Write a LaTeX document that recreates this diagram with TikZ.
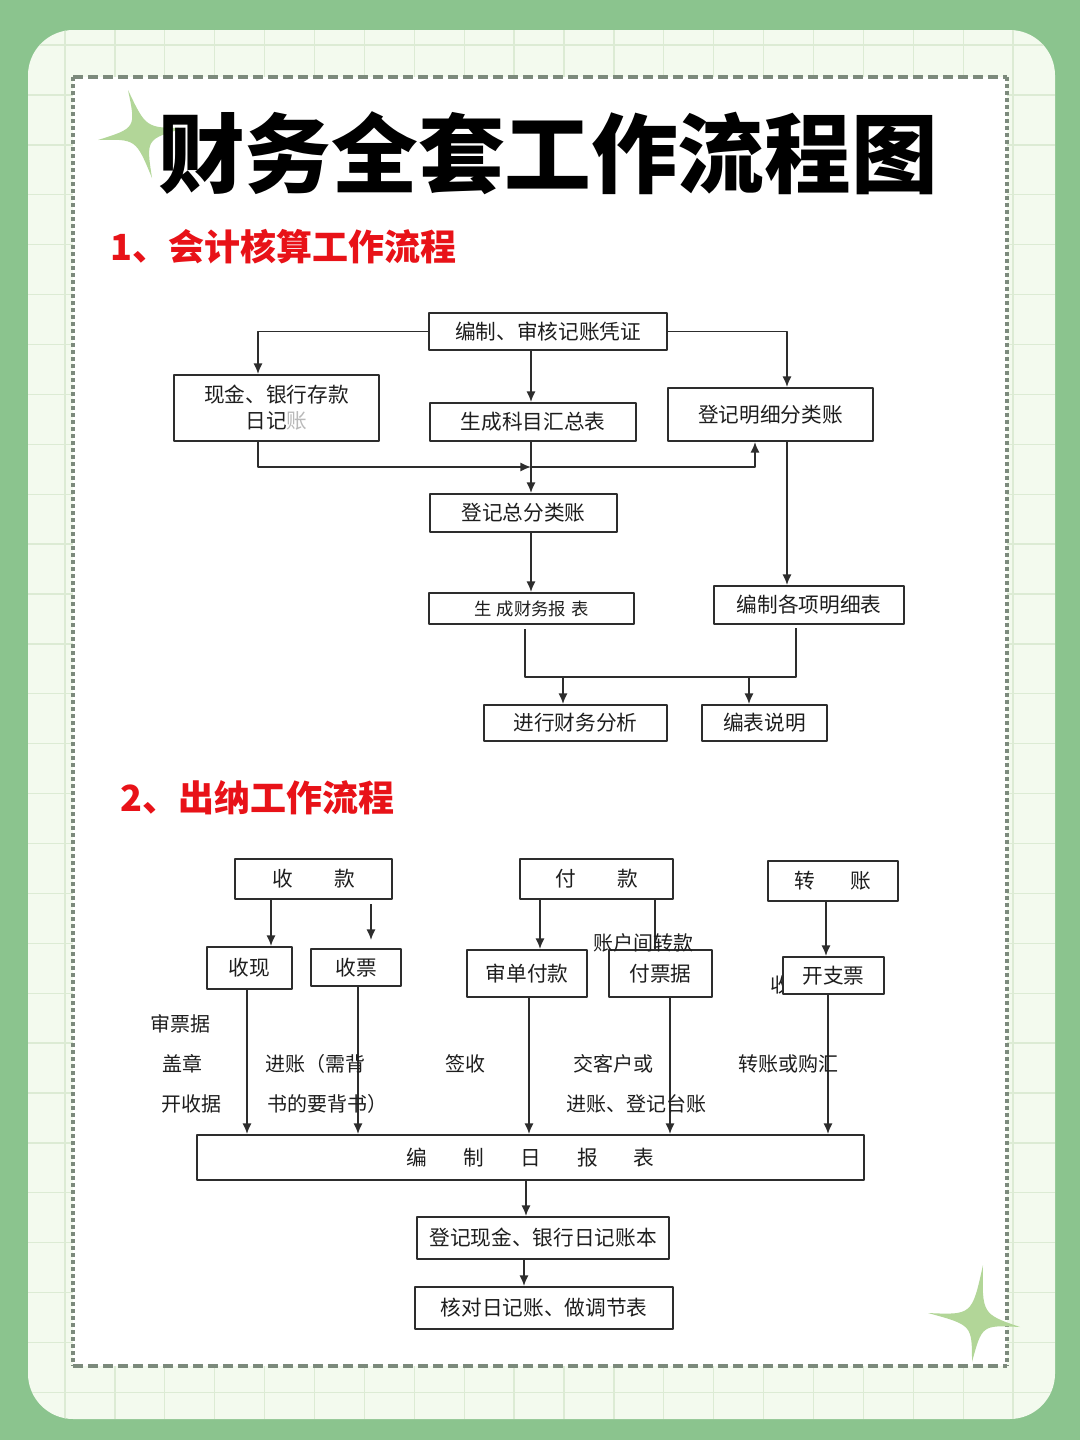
\documentclass[tikz,border=0pt]{standalone}
\usepackage{fontspec}
\usetikzlibrary{arrows.meta}
\newfontfamily\cjk{Noto Sans CJK SC}
\definecolor{outergreen}{RGB}{139,196,142}
\definecolor{panel}{RGB}{243,250,238}
\definecolor{gridline}{RGB}{220,235,212}
\definecolor{dashcol}{RGB}{124,138,124}
\definecolor{stargreen}{RGB}{178,214,152}
\definecolor{headred}{RGB}{232,18,24}
\definecolor{boxline}{RGB}{45,45,45}
\definecolor{ink}{RGB}{30,30,30}
\begin{document}
\begin{tikzpicture}[x=0.75pt, y=-0.75pt, line join=round,
  box/.style 2 args={draw=boxline, line width=1.5pt, fill=white, inner sep=0pt, align=center,
    font=\cjk\fontsize{15.5}{19.5}\selectfont, text=ink,
    minimum width=#1*0.75pt, minimum height=#2*0.75pt},
  lbl/.style={font=\cjk\fontsize{15}{18}\selectfont, text=ink, inner sep=0pt},
  link/.style={draw=boxline, line width=1.3pt, -{Latex[length=8pt,width=7pt]}},
  wire/.style={draw=boxline, line width=1.3pt},
  star/.style={fill=stargreen}]
\useasboundingbox (0,0) rectangle (1080,1440);

% background
\fill[outergreen] (0,0) rectangle (1080,1440);
\fill[panel, rounded corners=34pt] (28,30) rectangle (1055,1419);
\begin{scope}
  \clip[rounded corners=34pt] (28,30) rectangle (1055,1419);
  \foreach \x in {0,...,20}
    \draw[gridline, line width=1pt] (15.1+\x*49.9,30) -- (15.1+\x*49.9,1419);
  \foreach \y in {0,...,28}
    \draw[gridline, line width=1pt] (28,45.1+\y*49.9) -- (1055,45.1+\y*49.9);
\end{scope}
\fill[white] (73,77) rectangle (1007,1366);
\draw[dashcol, line width=2.6pt, dash pattern=on 7.5pt off 3.75pt] (73,77) -- (1007,77);
\draw[dashcol, line width=2.6pt, dash pattern=on 7.5pt off 3.75pt] (73,1366) -- (1007,1366);
\draw[dashcol, line width=2.6pt, dash pattern=on 3pt off 2.25pt] (73,77) -- (73,1366);
\draw[dashcol, line width=2.6pt, dash pattern=on 3pt off 2.25pt] (1007,77) -- (1007,1366);

% sparkles
\fill[star] (128,90) .. controls (146,128) .. (185,128) .. controls (146,139) .. (152,178)
  .. controls (136,139) .. (98,140) .. controls (136,128) .. cycle;
\fill[star] (983,1265) .. controls (982,1314) .. (1020,1327) .. controls (982,1325) .. (972,1362)
  .. controls (972,1325) .. (928,1313) .. controls (972,1315) .. cycle;

% title and headings
\node[font=\cjk\bfseries\fontsize{65}{70}\selectfont, text=black, inner sep=0pt] (title) at (548,153) {财务全套工作流程图};
\node[anchor=west, font=\cjk\bfseries\fontsize{27}{30}\selectfont, text=headred, inner sep=0pt] (head1) at (110,247) {1、会计核算工作流程};
\node[anchor=west, font=\cjk\bfseries\fontsize{27}{30}\selectfont, text=headred, inner sep=0pt] (head2) at (120,798) {2、出纳工作流程};

% 1. accounting flow
\node[box={238}{37}] (vouch) at (548,331.5) {编制、审核记账凭证};
\node[box={205}{66}] (cashj) at (276.5,408) {现金、银行存款\\日记{\color{gray!55}账}};
\node[box={206}{38}] (summ) at (533,422) {生成科目汇总表};
\node[box={205}{53}] (detl) at (770.5,414.5) {登记明细分类账};
\node[box={187}{38}] (gl) at (523.5,513) {登记总分类账};
\node[box={205}{31}, font=\cjk\fontsize{13}{15}\selectfont] (rep) at (531.5,608.5) {生\hspace{0.3em}成财务报\hspace{0.3em}表};
\node[box={190}{38}] (sched) at (809,605) {编制各项明细表};
\node[box={183}{36}] (anal) at (575.5,723) {进行财务分析};
\node[box={125}{36}] (note) at (764.5,723) {编表说明};

\coordinate (mid) at (531,467);
\coordinate (busL) at (525,677);
\coordinate (busR) at (796,677);
\coordinate (ta) at (563,677);
\coordinate (tb) at (749,677);

\draw[link] (vouch.west) -| (cashj.north -| 258,0);
\draw[link] (vouch.south -| mid) -- (summ.north -| mid);
\draw[link] (vouch.east) -| (detl.north -| 787,0);
\draw[link] (cashj.south -| 258,0) |- (mid);
\draw[link] (mid) -| (detl.south -| 755,0);
\draw[link] (summ.south -| mid) -- (gl.north -| mid);
\draw[link] (gl.south -| mid) -- (rep.north -| mid);
\draw[link] (detl.south -| 787,0) -- (sched.north -| 787,0);
\draw[wire] ([yshift=-3pt]rep.south -| busL) -- (busL) -- (busR) -- ([yshift=-2pt]sched.south -| busR);
\draw[link] (ta) -- (anal.north -| ta);
\draw[link] (tb) -- (note.north -| tb);

% 2. cashier flow
\node[lbl] (hidden) at (780,985) {收};
\node[box={157}{40}] (recv) at (313.5,879) {收\hspace{2em}款};
\node[box={153}{40}] (pay) at (596.5,879) {付\hspace{2em}款};
\node[box={130}{40}] (xfer) at (833,881) {转\hspace{1.7em}账};
\node[box={85}{42}] (cash) at (249.5,968) {收现};
\node[box={90}{37}] (chq) at (356,967.5) {收票};
\node[box={120}{47}] (audit) at (527,973.5) {审单付款};
\node[box={103}{47}] (bill) at (660.5,973.5) {付票据};
\node[box={101}{37}] (check) at (833.5,975.5) {开支票};
\node[box={667}{45}] (daily) at (530.5,1157.5) {编\hspace{1.75em}制\hspace{1.75em}日\hspace{1.75em}报\hspace{1.75em}表};
\node[box={252}{42}] (post) at (543,1238) {登记现金、银行日记账本};
\node[box={258}{42}] (recon) at (544,1308) {核对日记账、做调节表};

\draw[link] (recv.south -| 271,0) -- (cash.north -| 271,0);
\draw[link] ([yshift=-3pt]recv.south -| 371,0) -- ([yshift=6pt]chq.north -| 371,0);
\draw[link] (pay.south -| 540,0) -- (audit.north -| 540,0);
\draw[wire] (pay.south -| 655,0) -- (bill.north -| 655,0);
\draw[link] (xfer.south -| 826,0) -- (check.north -| 826,0);
\foreach \n/\x in {cash/247, chq/358, audit/529, bill/670, check/828}
  \draw[link] (\n.south -| \x,0) -- (daily.north -| \x,0);
\draw[link] (daily.south -| 526,0) -- (post.north -| 526,0);
\draw[link] (post.south -| 524,0) -- (recon.north -| 524,0);

\node[lbl] (between) at (643,943) {账户间转款};
\node[lbl, anchor=west] (l1) at (150,1024) {审票据};
\node[lbl, anchor=west] (l2) at (162,1064) {盖章};
\node[lbl, anchor=west] (l3) at (161,1104) {开收据};
\node[lbl, anchor=west] (l4) at (265,1064) {进账（需背};
\node[lbl, anchor=west] (l5) at (267,1104) {书的要背书）};
\node[lbl, anchor=west] (l6) at (445,1064) {签收};
\node[lbl, anchor=west] (l7) at (573,1064) {交客户或};
\node[lbl, anchor=west] (l8) at (566,1104) {进账、登记台账};
\node[lbl, anchor=west] (l9) at (738,1064) {转账或购汇};
\end{tikzpicture}
\end{document}
